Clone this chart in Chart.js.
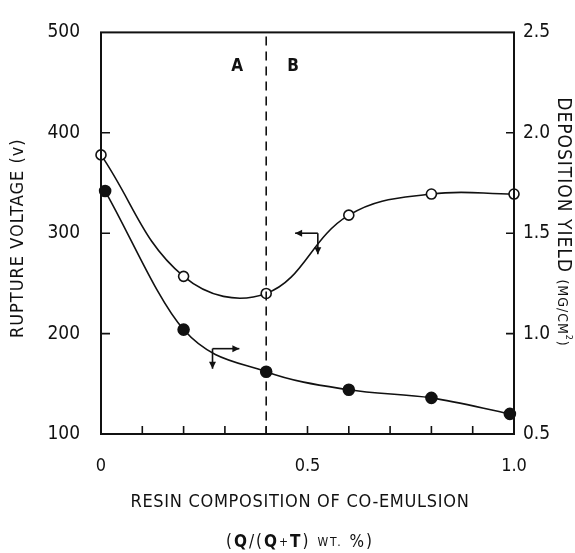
<!DOCTYPE html>
<html>
<head>
<meta charset="utf-8">
<script src="https://cdn.jsdelivr.net/npm/chart.js@4"></script>
<style>
  html, body { margin: 0; padding: 0; background: #fff; }
  #wrap { width: 575px; height: 553px; }
</style>
</head>
<body>
<div id="wrap"><canvas id="mychart"></canvas></div>
<script>
// data
const xOpen = [0, 0.2, 0.4, 0.6, 0.8, 1.0];
const voltage = [378, 257, 240, 318, 339, 339];          // open circles, left axis (V)
const xFilled = [0.01, 0.2, 0.4, 0.6, 0.8, 0.99];
const depYield = [1.71, 1.02, 0.81, 0.72, 0.68, 0.60];   // filled circles, right axis (mg/cm2)
const xLabelAt = [0, 0.5, 1.0];
const xLabels = ['0', '0.5', '1.0'];
const leftTicks = [100, 200, 300, 400, 500];
const rightTicks = [0.5, 1.0, 1.5, 2.0, 2.5];
const boundaryX = 0.4;   // A / B region boundary

const black = '#111';
const fontFam = '"DejaVu Sans Condensed", "Liberation Sans Narrow", "DejaVu Sans", sans-serif';

function toPts(xs, ys) {
  return xs.map((x, i) => ({x: x, y: ys[i]}));
}

function arrow(ctx, x1, y1, x2, y2) {
  ctx.beginPath();
  ctx.moveTo(x1, y1);
  ctx.lineTo(x2, y2);
  ctx.stroke();
  let a = Math.atan2(y2 - y1, x2 - x1);
  let s = 7;
  ctx.beginPath();
  ctx.moveTo(x2, y2);
  ctx.lineTo(x2 - s * Math.cos(a) + 3.5 * Math.sin(a), y2 - s * Math.sin(a) - 3.5 * Math.cos(a));
  ctx.lineTo(x2 - s * Math.cos(a) - 3.5 * Math.sin(a), y2 - s * Math.sin(a) + 3.5 * Math.cos(a));
  ctx.closePath();
  ctx.fill();
}

const decor = {
  id: 'decor',
  afterDraw(chart) {
    const ctx = chart.ctx;
    const a = chart.chartArea;
    const x = chart.scales.x, y = chart.scales.y, y2 = chart.scales.y2;
    ctx.save();
    ctx.strokeStyle = black;
    ctx.fillStyle = black;

    // frame
    ctx.lineWidth = 2;
    ctx.strokeRect(a.left, a.top, a.right - a.left, a.bottom - a.top);

    // inward tick marks
    ctx.lineWidth = 1.6;
    ctx.beginPath();
    for (let i = 1; i < 10; i++) {
      let px = x.getPixelForValue(i / 10);
      ctx.moveTo(px, a.bottom);
      ctx.lineTo(px, a.bottom - 8);
    }
    leftTicks.slice(1, -1).forEach(v => {
      let py = y.getPixelForValue(v);
      ctx.moveTo(a.left, py);
      ctx.lineTo(a.left + 9, py);
    });
    rightTicks.slice(1, -1).forEach(v => {
      let py = y2.getPixelForValue(v);
      ctx.moveTo(a.right, py);
      ctx.lineTo(a.right - 8, py);
    });
    ctx.stroke();

    // dashed boundary
    ctx.setLineDash([9, 6]);
    ctx.lineWidth = 1.6;
    let bx = x.getPixelForValue(boundaryX);
    ctx.beginPath();
    ctx.moveTo(bx, a.top + 4);
    ctx.lineTo(bx, a.bottom);
    ctx.stroke();
    ctx.setLineDash([]);

    // region labels
    ctx.font = 'bold 17px ' + fontFam;
    ctx.textAlign = 'center';
    ctx.textBaseline = 'middle';
    ctx.fillText('A', x.getPixelForValue(0.33), y.getPixelForValue(466));
    ctx.fillText('B', x.getPixelForValue(0.465), y.getPixelForValue(466));

    // axis pointers
    ctx.lineWidth = 1.6;
    let ox = x.getPixelForValue(0.525), oy = y.getPixelForValue(300);
    arrow(ctx, ox, oy, x.getPixelForValue(0.47), oy);
    arrow(ctx, ox, oy, ox, y.getPixelForValue(279));
    let fx = x.getPixelForValue(0.27), fy = y2.getPixelForValue(0.925);
    arrow(ctx, fx, fy, x.getPixelForValue(0.335), fy);
    arrow(ctx, fx, fy, fx, y2.getPixelForValue(0.825));

    // left axis title
    ctx.font = '18px ' + fontFam;
    ctx.letterSpacing = '1px';
    ctx.save();
    ctx.translate(18, (a.top + a.bottom) / 2 + 5);
    ctx.rotate(-Math.PI / 2);
    ctx.fillText('RUPTURE VOLTAGE (v)', 0, 0);
    ctx.restore();

    // right axis title
    ctx.save();
    ctx.translate(563, 222);
    ctx.rotate(Math.PI / 2);
    ctx.textAlign = 'left';
    let t1 = 'DEPOSITION YIELD ';
    ctx.font = '19px ' + fontFam;
    let w1 = ctx.measureText(t1).width;
    ctx.font = '14px ' + fontFam;
    let w2 = ctx.measureText('(MG/CM)').width;
    let start = -(w1 + w2 + 6) / 2;
    ctx.font = '19px ' + fontFam;
    ctx.fillText(t1, start, 0);
    ctx.font = '14px ' + fontFam;
    ctx.fillText('(MG/CM', start + w1, 1);
    let w3 = ctx.measureText('(MG/CM').width;
    ctx.font = '9px ' + fontFam;
    ctx.fillText('2', start + w1 + w3, -5);
    ctx.font = '14px ' + fontFam;
    ctx.fillText(')', start + w1 + w3 + 6, 1);
    ctx.restore();

    // x axis title
    ctx.font = '18px ' + fontFam;
    ctx.letterSpacing = '0.7px';
    ctx.textAlign = 'center';
    ctx.fillText('RESIN COMPOSITION OF CO-EMULSION', 300, 502);
    // second line: (Q/(Q+T) WT. %)
    ctx.letterSpacing = '2px';
    let parts = [
      ['(', '17px '], ['Q', 'bold 17px '], ['/(', '17px '], ['Q', 'bold 17px '],
      ['+', '12px '], ['T', 'bold 17px '], [') ', '17px '], ['WT.', '12px '], [' %)', '17px ']
    ];
    ctx.textAlign = 'left';
    let tot = 0;
    parts.forEach(p => { ctx.font = p[1] + fontFam; tot += ctx.measureText(p[0]).width; });
    let cx = 300 - tot / 2;
    parts.forEach(p => {
      ctx.font = p[1] + fontFam;
      ctx.fillText(p[0], cx, 543);
      cx += ctx.measureText(p[0]).width;
    });
    ctx.letterSpacing = '0px';
    ctx.restore();
  }
};

let ctx = document.getElementById('mychart').getContext('2d');
let chart = new Chart(ctx, {
  type: 'scatter',
  data: {
    datasets: [
      {
        label: 'Rupture voltage',
        data: toPts(xOpen, voltage),
        yAxisID: 'y',
        showLine: true,
        tension: 0.4,
        borderColor: black,
        borderWidth: 1.6,
        pointRadius: 5,
        pointBackgroundColor: '#fff',
        pointBorderColor: black,
        pointBorderWidth: 1.6,
        clip: false
      },
      {
        label: 'Deposition yield',
        data: toPts(xFilled, depYield),
        yAxisID: 'y2',
        showLine: true,
        cubicInterpolationMode: 'monotone',
        borderColor: black,
        borderWidth: 1.6,
        pointRadius: 5.5,
        pointBackgroundColor: black,
        pointBorderColor: black,
        clip: false
      }
    ]
  },
  plugins: [decor],
  options: {
    responsive: true,
    maintainAspectRatio: false,
    animation: false,
    layout: { padding: { top: 25, left: 0, right: 0, bottom: 0 } },
    plugins: { legend: { display: false }, tooltip: { enabled: false } },
    scales: {
      x: {
        type: 'linear', min: 0, max: 1,
        grid: { display: false },
        border: { display: false },
        afterBuildTicks: s => { s.ticks = xLabelAt.map(v => ({value: v})); },
        afterFit: s => { s.height = 119; },
        ticks: {
          padding: 14,
          color: black,
          maxRotation: 0,
          font: { family: fontFam, size: 18 },
          callback: (v, i) => xLabels[i]
        }
      },
      y: {
        position: 'left', min: 100, max: 500,
        grid: { display: false, drawTicks: false },
        border: { display: false },
        afterBuildTicks: s => { s.ticks = leftTicks.map(v => ({value: v})); },
        afterFit: s => { s.width = 101; },
        ticks: { padding: 21, color: black, font: { family: fontFam, size: 19 } }
      },
      y2: {
        position: 'right', min: 0.5, max: 2.5,
        grid: { display: false, drawTicks: false },
        border: { display: false },
        afterBuildTicks: s => { s.ticks = rightTicks.map(v => ({value: v})); },
        afterFit: s => { s.width = 61; },
        ticks: {
          padding: 9, color: black,
          font: { family: fontFam, size: 19 },
          callback: v => v.toFixed(1)
        }
      }
    }
  }
});
</script>
</body>
</html>
